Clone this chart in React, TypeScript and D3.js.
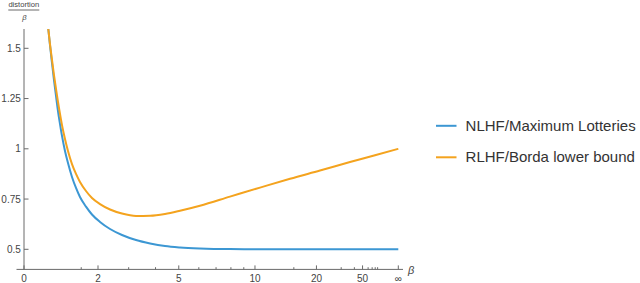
import React, { useEffect, useRef } from "react";
import * as d3 from "d3";

// beta values (Infinity = right end of the axis)
const betas = [
  0.593, 0.637, 0.69, 0.743, 0.797, 0.85, 0.905, 0.959, 1.041, 1.124,
  1.236, 1.35, 1.464, 1.639, 1.817, 2.062, 2.378, 2.771, 3.26, 3.787,
  4.39, 5.057, 6.06, 7.93, 10.5, 14.36, 21.05, 36.07, 79.2, Infinity,
];
const nlhfValues = [
  1.596, 1.516, 1.427, 1.342, 1.263, 1.188, 1.123, 1.064, 0.989, 0.929,
  0.86, 0.805, 0.76, 0.712, 0.673, 0.636, 0.601, 0.571, 0.546, 0.529,
  0.516, 0.509, 0.504, 0.501, 0.5005, 0.5, 0.5, 0.5, 0.5, 0.5,
];
const rlhfValues = [
  1.596, 1.521, 1.442, 1.367, 1.298, 1.233, 1.173, 1.118, 1.049, 0.989,
  0.924, 0.875, 0.835, 0.79, 0.755, 0.725, 0.698, 0.678, 0.666, 0.667,
  0.676, 0.692, 0.717, 0.762, 0.807, 0.851, 0.892, 0.934, 0.968, 1.0,
];

const xMajorTicks = [0, 2, 5, 10, 20, 50, Infinity];
const xMajorLabels = ["0", "2", "5", "10", "20", "50", "\u221e"];
const xMinorTicks = [1.5, 3, 4, 6, 7, 8, 9, 15, 30, 40, 60, 70, 80, 90];
const yTicks = [0.5, 0.75, 1, 1.25, 1.5];
const yLabels = ["0.5", "0.75", "1", "1.25", "1.5"];

const seriesNames = ["NLHF/Maximum Lotteries", "RLHF/Borda lower bound"];
const seriesColors = ["#3c97d3", "#f4a31e"];

const FONT = "'Liberation Sans', Arial, sans-serif";

const App = () => {
  const ref = useRef<SVGSVGElement>(null);

  useEffect(() => {
    const svg = d3.select(ref.current);
    svg.selectAll("*").remove();

    // compressed beta axis: 0 .. infinity
    const C = 6.7, Q = 0.94;
    const warp = (b: number) => (2 / Math.PI) * Math.atan(Math.pow(b / C, Q));
    const xLin = d3.scaleLinear().domain([0, 1]).range([24, 398.3]);
    const x = (b: number) => xLin(warp(b));

    const y = d3.scaleLinear().domain([0.4, 1.6]).range([269.4, 28.2]);
    const y0 = y(0.4);
    const axisColor = "#6a6a6a";
    const textColor = "#444";

    // axes
    svg.append("line")
      .attr("x1", 16.5).attr("x2", 403).attr("y1", y0).attr("y2", y0)
      .attr("stroke", axisColor).attr("stroke-width", 1);
    svg.append("line")
      .attr("x1", x(0)).attr("x2", x(0)).attr("y1", y0).attr("y2", 29)
      .attr("stroke", axisColor).attr("stroke-width", 1);

    svg.selectAll(".xmajor").data(xMajorTicks).enter().append("line")
      .attr("x1", (d) => x(d)).attr("x2", (d) => x(d))
      .attr("y1", y0).attr("y2", y0 - 4)
      .attr("stroke", axisColor);
    svg.selectAll(".xminor").data(xMinorTicks).enter().append("line")
      .attr("x1", (d) => x(d)).attr("x2", (d) => x(d))
      .attr("y1", y0).attr("y2", y0 - 2.2)
      .attr("stroke", axisColor);
    svg.selectAll(".xlab").data(xMajorTicks).enter().append("text")
      .attr("x", (d) => x(d)).attr("y", 282)
      .attr("text-anchor", "middle")
      .attr("font-family", FONT).attr("font-size", 10).attr("fill", textColor)
      .text((d, i) => xMajorLabels[i]);

    svg.selectAll(".ytick").data(yTicks).enter().append("line")
      .attr("x1", x(0)).attr("x2", x(0) + 4.5)
      .attr("y1", (d) => y(d)).attr("y2", (d) => y(d))
      .attr("stroke", axisColor);
    svg.selectAll(".ylab").data(yTicks).enter().append("text")
      .attr("x", 20.8).attr("y", (d) => y(d) + 3.6)
      .attr("text-anchor", "end")
      .attr("font-family", FONT).attr("font-size", 10).attr("fill", textColor)
      .text((d, i) => yLabels[i]);

    // axis labels
    svg.append("text").attr("x", 23.8).attr("y", 6.6).attr("text-anchor", "middle")
      .attr("font-family", FONT).attr("font-size", 7.6).attr("fill", textColor)
      .text("distortion");
    svg.append("line").attr("x1", 8.3).attr("x2", 39.3).attr("y1", 10).attr("y2", 10)
      .attr("stroke", textColor).attr("stroke-width", 0.8);
    svg.append("text").attr("x", 24.3).attr("y", 19.8).attr("text-anchor", "middle")
      .attr("font-family", FONT).attr("font-size", 7.6).attr("font-style", "italic")
      .attr("fill", textColor).text("\u03b2");
    svg.append("text").attr("x", 408).attr("y", 273.5)
      .attr("font-family", FONT).attr("font-size", 11).attr("font-style", "italic")
      .attr("fill", textColor).text("\u03b2");

    // curves
    const line = d3.line<[number, number]>()
      .x((d) => x(d[0]))
      .y((d) => y(d[1]))
      .curve(d3.curveMonotoneX);

    const series = [nlhfValues, rlhfValues].map((vals) =>
      betas.map((b, i) => [b, vals[i]] as [number, number])
    );
    series.forEach((s, i) => {
      svg.append("path")
        .datum(s)
        .attr("fill", "none")
        .attr("stroke", seriesColors[i])
        .attr("stroke-width", 2)
        .attr("d", line);
    });

    // legend
    const legendY = [125.8, 157.3];
    seriesNames.forEach((name, i) => {
      svg.append("line")
        .attr("x1", 436).attr("x2", 456.5)
        .attr("y1", legendY[i]).attr("y2", legendY[i])
        .attr("stroke", seriesColors[i]).attr("stroke-width", 2);
      svg.append("text")
        .attr("x", 465.6).attr("y", legendY[i] + 5)
        .attr("font-family", FONT).attr("font-size", 15).attr("fill", "#333")
        .text(name);
    });
  }, []);

  return (
    <svg
      ref={ref}
      width={640}
      height={283}
      style={{ position: "absolute", left: 0, top: 0, background: "#fff" }}
    />
  );
};

export default App;
